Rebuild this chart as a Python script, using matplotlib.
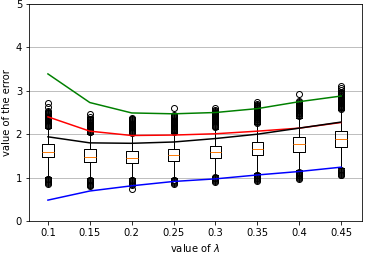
import matplotlib
matplotlib.use("Agg")
import matplotlib.pyplot as plt

# lambda values on the x axis
lambdas = ["0.1", "0.15", "0.2", "0.25", "0.3", "0.35", "0.4", "0.45"]

# curves drawn over the boxes
green_vals = [3.39, 2.73, 2.49, 2.47, 2.50, 2.59, 2.75, 2.88]
red_vals = [2.40, 2.07, 1.97, 1.98, 2.01, 2.07, 2.14, 2.27]
black_vals = [1.94, 1.80, 1.79, 1.82, 1.90, 2.00, 2.14, 2.28]
blue_vals = [0.48, 0.69, 0.81, 0.91, 0.97, 1.06, 1.14, 1.24]

# box statistics
q1 = [1.47, 1.35, 1.33, 1.38, 1.44, 1.51, 1.60, 1.71]
med = [1.60, 1.48, 1.46, 1.51, 1.58, 1.66, 1.77, 1.90]
q3 = [1.77, 1.65, 1.62, 1.65, 1.72, 1.83, 1.94, 2.08]
whis_lo = [1.02, 0.99, 0.98, 0.98, 1.05, 1.10, 1.17, 1.21]
whis_hi = [2.15, 2.01, 1.99, 2.02, 2.13, 2.23, 2.38, 2.55]

# outliers (dense runs of circles above and below each box)
fliers = [
    [2.18, 2.20, 2.22, 2.24, 2.26, 2.28, 2.30, 2.32, 2.34, 2.36, 2.38, 2.40,
     2.42, 2.44, 2.46, 2.48, 2.50, 2.52, 2.54, 2.63, 2.71,
     0.86, 0.88, 0.90, 0.92, 0.94, 0.96, 0.97],
    [2.04, 2.06, 2.08, 2.10, 2.12, 2.14, 2.16, 2.18, 2.20, 2.22, 2.24, 2.26,
     2.28, 2.30, 2.32, 2.34, 2.36, 2.40, 2.47,
     0.80, 0.82, 0.84, 0.86, 0.88, 0.90, 0.92, 0.94, 0.95],
    [2.02, 2.04, 2.06, 2.08, 2.10, 2.12, 2.14, 2.16, 2.18, 2.20, 2.22, 2.24,
     2.26, 2.28, 2.30, 2.32, 2.34, 2.36, 2.38,
     0.74, 0.84, 0.86, 0.88, 0.90, 0.92, 0.94, 0.95],
    [2.05, 2.07, 2.09, 2.11, 2.13, 2.15, 2.17, 2.19, 2.21, 2.23, 2.25, 2.27,
     2.29, 2.31, 2.33, 2.35, 2.37, 2.39, 2.41, 2.43, 2.45, 2.60,
     0.86, 0.88, 0.90, 0.92, 0.94, 0.95],
    [2.16, 2.18, 2.20, 2.22, 2.24, 2.26, 2.28, 2.30, 2.32, 2.34, 2.36, 2.38,
     2.40, 2.42, 2.44, 2.46, 2.48, 2.50, 2.52, 2.54, 2.56, 2.60,
     0.90, 0.92, 0.94, 0.96, 0.98, 1.00, 1.01],
    [2.26, 2.28, 2.30, 2.32, 2.34, 2.36, 2.38, 2.40, 2.42, 2.44, 2.46, 2.48,
     2.50, 2.52, 2.54, 2.56, 2.58, 2.60, 2.62, 2.64, 2.66, 2.68, 2.70, 2.74,
     0.92, 0.94, 0.96, 0.98, 1.00, 1.02, 1.04, 1.06, 1.07],
    [2.42, 2.44, 2.46, 2.48, 2.50, 2.52, 2.54, 2.56, 2.58, 2.60, 2.62, 2.64,
     2.66, 2.68, 2.70, 2.72, 2.74, 2.77, 2.93,
     0.97, 0.99, 1.01, 1.03, 1.05, 1.07, 1.09, 1.11, 1.12],
    [2.58, 2.60, 2.62, 2.64, 2.66, 2.68, 2.70, 2.72, 2.74, 2.76, 2.78, 2.80,
     2.82, 2.84, 2.86, 2.88, 2.90, 2.92, 2.94, 2.96, 2.98, 3.02, 3.07, 3.11,
     1.05, 1.07, 1.09, 1.11, 1.13, 1.15, 1.17],
]


def main():
    fig = plt.figure(figsize=(368 / 72, 256 / 72), dpi=72)
    ax = fig.add_axes([0.079, 0.137, 0.905, 0.847])

    stats = []
    for i in range(len(lambdas)):
        stats.append({"q1": q1[i], "med": med[i], "q3": q3[i],
                      "whislo": whis_lo[i], "whishi": whis_hi[i],
                      "fliers": fliers[i]})
    pos = list(range(1, len(lambdas) + 1))
    ax.bxp(stats, positions=pos, widths=0.28)

    ax.plot(pos, green_vals, color="green")
    ax.plot(pos, red_vals, color="red")
    ax.plot(pos, black_vals, color="black")
    ax.plot(pos, blue_vals, color="blue")

    ax.set_xticks(pos)
    ax.set_xticklabels(lambdas)
    ax.set_xlim(0.55, 8.5)
    ax.set_ylim(0, 5)
    ax.yaxis.grid(True, color="#b0b0b0")
    ax.set_axisbelow(True)
    ax.set_xlabel("value of $\\lambda$")
    ax.set_ylabel("value of the error")

    fig.savefig("out.png", dpi=72)


if __name__ == '__main__':
    main()
